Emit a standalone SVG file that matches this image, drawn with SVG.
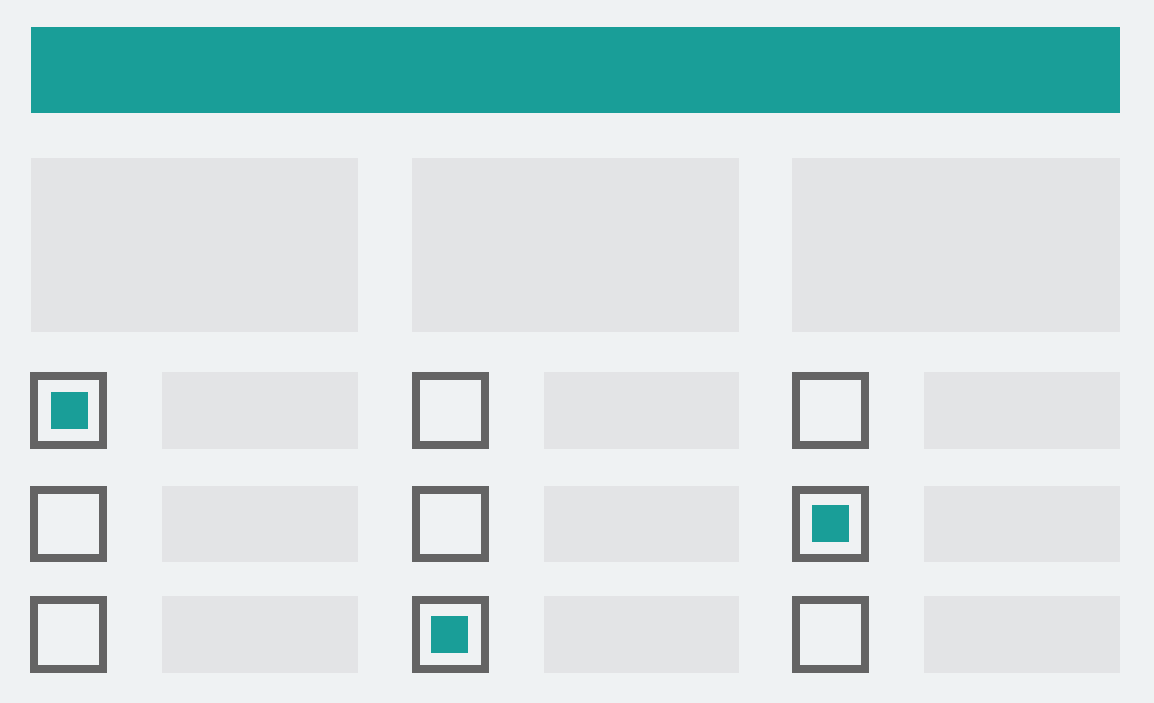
<svg xmlns="http://www.w3.org/2000/svg" width="1154" height="703" viewBox="0 0 1154 703">
<style>
.bg{fill:#eff2f3}
.hdr{fill:#199e98}
.blk{fill:#e3e4e6}
.cb{fill:#eff2f3;stroke:#646464;stroke-width:8}
.chk{fill:#199e98}
</style>
<rect class="bg" x="0" y="0" width="1154" height="703"/>
<g id="header"><rect class="hdr" x="31" y="27" width="1089" height="86"/></g>
<g id="panels">
<rect class="blk" x="31" y="158" width="327" height="174"/>
<rect class="blk" x="412" y="158" width="327" height="174"/>
<rect class="blk" x="792" y="158" width="328" height="174"/>
</g>
<g id="labels">
<rect class="blk" x="162" y="372" width="196" height="77"/>
<rect class="blk" x="544" y="372" width="195" height="77"/>
<rect class="blk" x="924" y="372" width="196" height="77"/>
<rect class="blk" x="162" y="486" width="196" height="76"/>
<rect class="blk" x="544" y="486" width="195" height="76"/>
<rect class="blk" x="924" y="486" width="196" height="76"/>
<rect class="blk" x="162" y="596" width="196" height="77"/>
<rect class="blk" x="544" y="596" width="195" height="77"/>
<rect class="blk" x="924" y="596" width="196" height="77"/>
</g>
<g id="checkboxes">
<g id="cb-1-1"><rect class="cb" x="34" y="376" width="69" height="69"/><rect class="chk" x="51" y="392" width="37" height="37"/></g>
<g id="cb-1-2"><rect class="cb" x="416" y="376" width="69" height="69"/></g>
<g id="cb-1-3"><rect class="cb" x="796" y="376" width="69" height="69"/></g>
<g id="cb-2-1"><rect class="cb" x="34" y="490" width="69" height="68"/></g>
<g id="cb-2-2"><rect class="cb" x="416" y="490" width="69" height="68"/></g>
<g id="cb-2-3"><rect class="cb" x="796" y="490" width="69" height="68"/><rect class="chk" x="812" y="505" width="37" height="37"/></g>
<g id="cb-3-1"><rect class="cb" x="34" y="600" width="69" height="69"/></g>
<g id="cb-3-2"><rect class="cb" x="416" y="600" width="69" height="69"/><rect class="chk" x="431" y="616" width="37" height="37"/></g>
<g id="cb-3-3"><rect class="cb" x="796" y="600" width="69" height="69"/></g>
</g>
</svg>
